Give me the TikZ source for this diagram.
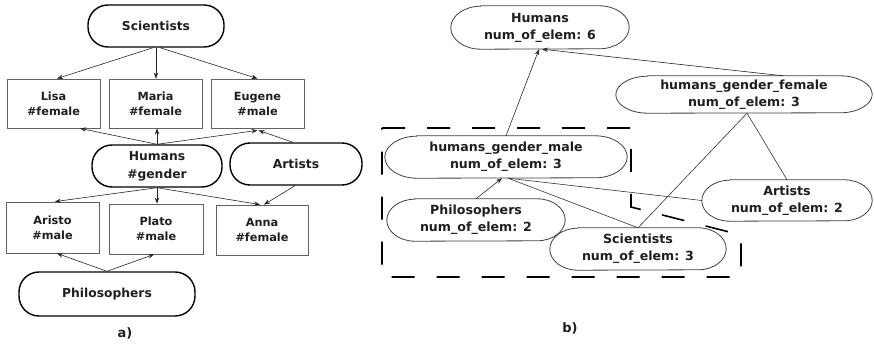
\documentclass[tikz,border=0pt]{standalone}
\usepackage{fontspec}
\setmainfont{DejaVu Sans}
\usetikzlibrary{arrows.meta}

% outline with elliptical ends around an existing node
\newcommand\drawcapsule[3]{%
  \draw[capsline] ([xshift=#2]#1.north west) -- ([xshift=-#2]#1.north east)
    arc[start angle=90,end angle=-90,x radius=#2,y radius=#3]
    -- ([xshift=#2]#1.south west)
    arc[start angle=270,end angle=90,x radius=#2,y radius=#3] -- cycle;}

\begin{document}
\begin{tikzpicture}[x=1pt,y=-1pt,
  every node/.style={text=black!88},
  term/.style={draw=black, line width=1.4pt, rounded corners=20pt,
    font=\bfseries\fontsize{12.3}{18}\selectfont, align=center, inner sep=0pt},
  item/.style={draw=black!62, line width=0.8pt,
    font=\bfseries\fontsize{11.3}{15}\selectfont, align=center, inner sep=0pt},
  cls/.style={font=\bfseries\fontsize{12.6}{17}\selectfont, align=center, inner sep=0pt},
  capsline/.style={draw=black!75, line width=0.8pt},
  arr/.style={-{Stealth[length=6pt,width=4.5pt]}, line width=0.6pt, draw=black!85},
  link/.style={line width=0.6pt, draw=black!80},
  frame/.style={line width=1.6pt, dash pattern=on 23pt off 22pt},
  caption/.style={font=\bfseries\fontsize{13}{15}\selectfont}]
\useasboundingbox (0,0) rectangle (874,347);

% ---------- a) instance graph ----------
\node[term, minimum width=136pt, minimum height=42pt] (sci) at (156,26) {Scientists};
\node[item, minimum width=93pt, minimum height=49pt] (lisa) at (53.5,103.5) {Lisa\\\#female};
\node[item, minimum width=93pt, minimum height=49pt] (maria) at (155.5,103.5) {Maria\\\#female};
\node[item, minimum width=93pt, minimum height=49pt] (eugene) at (257.5,103.5) {Eugene\\\#male};
\node[term, minimum width=130pt, minimum height=42pt] (hum) at (157,166) {Humans\\\#gender};
\node[term, minimum width=132pt, minimum height=42pt] (art) at (296,164) {Artists};
\node[item, minimum width=93pt, minimum height=51pt] (aristo) at (52.5,227.5) {Aristo\\\#male};
\node[item, minimum width=94pt, minimum height=50pt] (plato) at (156,229) {Plato\\\#male};
\node[item, minimum width=92pt, minimum height=50pt] (anna) at (262,230) {Anna\\\#female};
\node[term, minimum width=176pt, minimum height=44pt] (phil) at (107,294) {Philosophers};
\node[caption] (capa) at (125,333) {a)};

\draw[arr] ([xshift=-3]sci.south) -- ([xshift=3.5]lisa.north);
\draw[arr] (sci.south) -- (sci.south |- maria.north);
\draw[arr] ([xshift=4]sci.south) -- (eugene.north);
\draw[arr] (hum.north) -- ([xshift=26.5]lisa.south);
\draw[arr] (hum.north) -- (hum.north |- maria.south);
\draw[arr] (hum.north) -- ([yshift=-2]eugene.south);
\draw[arr] ([xshift=-3]art.north) -- ([xshift=1,yshift=-2]eugene.south);
\draw[arr] (hum.south) -- ([xshift=2.5]aristo.north);
\draw[arr] (hum.south) -- (hum.south |- plato.north);
\draw[arr] (hum.south) -- ([xshift=-2]anna.north);
\draw[arr] ([xshift=-1]art.south) -- ([xshift=2]anna.north);
\draw[arr] (phil.north) -- ([xshift=4.5]aristo.south);
\draw[arr] (phil.north) -- ([xshift=-2]plato.south);

% ---------- b) class graph ----------
\node[cls, minimum width=178pt, minimum height=43pt] (H) at (540,27.5) {Humans\\num\_of\_elem: 6};
\node[cls, minimum width=256pt, minimum height=37pt] (F) at (744,94.5) {humans\_gender\_female\\num\_of\_elem: 3};
\node[cls, minimum width=242pt, minimum height=42pt] (M) at (506,157) {humans\_gender\_male\\num\_of\_elem: 3};
\node[cls, minimum width=178pt, minimum height=42pt] (P) at (476,220) {Philosophers\\num\_of\_elem: 2};
\node[cls, minimum width=176pt, minimum height=42pt] (S) at (638,249) {Scientists\\num\_of\_elem: 3};
\node[cls, minimum width=170pt, minimum height=41pt] (A) at (787,200.5) {Artists\\num\_of\_elem: 2};
\node[caption] (capb) at (570,328) {b)};

\drawcapsule{H}{30pt}{21.5pt}
\drawcapsule{F}{32pt}{18.5pt}
\drawcapsule{M}{32pt}{21pt}
\drawcapsule{P}{28pt}{21pt}
\drawcapsule{S}{28pt}{21pt}
\drawcapsule{A}{28pt}{20.5pt}

\draw[arr] (M.north) -- ([xshift=-1]H.south);
\draw[arr] ([xshift=39]F.north) -- ([xshift=2]H.south);
\draw[link] ([xshift=3]F.south) -- (S.north);
\draw[link] ([xshift=3]F.south) -- (A.north);
\draw[arr] (P.north) -- ([xshift=-4]M.south);
\draw[link] ([xshift=2]M.south) -- (A.west);
\draw[link] ([xshift=2]M.south) -- (S.north);

% dashed grouping frame
\draw[frame] (382,128) -- (631,128) -- (631,207) -- (741,235)
  -- (741,277) -- (382,277) -- cycle;
\end{tikzpicture}
\end{document}
